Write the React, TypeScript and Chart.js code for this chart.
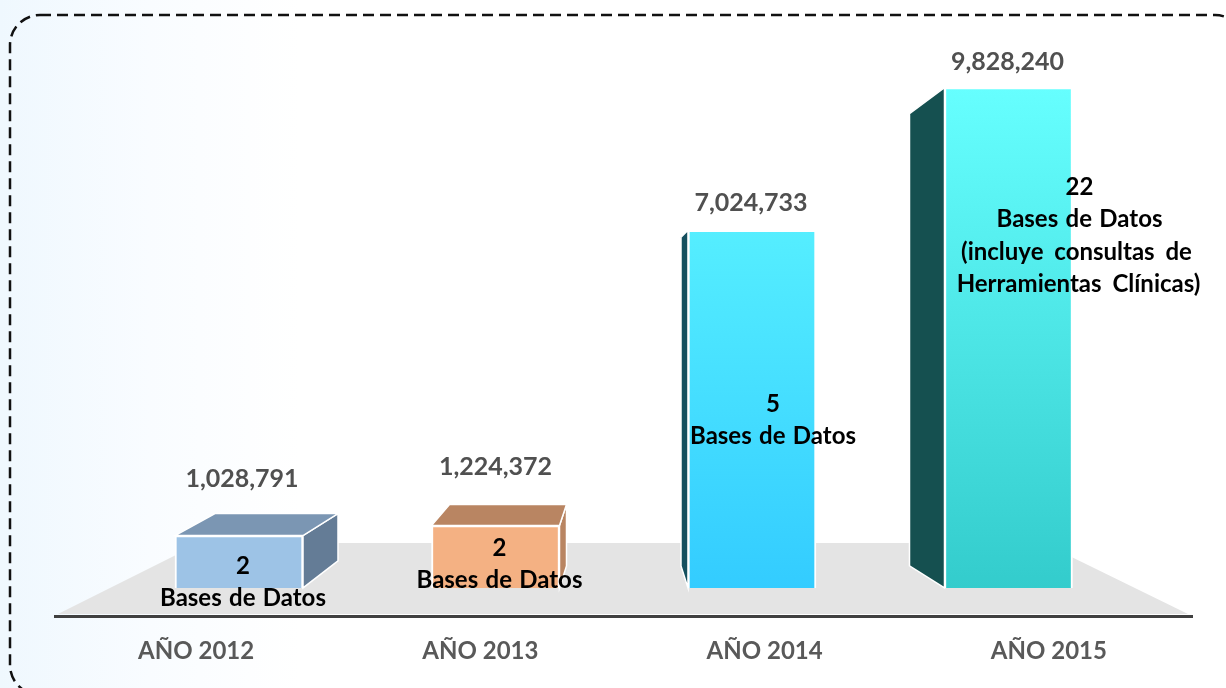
import React, { useEffect, useRef } from "react";
import { Chart, registerables } from "chart.js";

Chart.register(...registerables);

const categories = ["AÑO 2012", "AÑO 2013", "AÑO 2014", "AÑO 2015"];
const consultas = [1028791, 1224372, 7024733, 9828240];
const basesCount = ["2", "2", "5", "22"];
const basesNotes = [
  ["Bases de Datos"],
  ["Bases de Datos"],
  ["Bases de Datos"],
  ["Bases de Datos", "(incluye consultas de", "Herramientas Clínicas)"],
];

const FONT = "Lato, Carlito, 'Open Sans', sans-serif";

// Per-bar faces: colours and 3D extrusion, relative to the bar's own corners.
const barStyles = [
  { top: "#9DC3E6", bottom: "#9DC3E6", roof: "#7B96B3", side: "#647C96", dir: 1, dx: 35, dyTop: -22, dyBottom: -27, roofInset: 40, labelDx: 3, labelDy: -57, noteDx: 4, noteDy: -22 },
  { top: "#F4B183", bottom: "#F4B183", roof: "#B98562", side: "#B98562", dir: 1, dx: 7, dyTop: -21, dyBottom: -22, roofInset: 18, labelDx: 0, labelDy: -59, noteDx: 4, noteDy: -40 },
  { top: "#55EEFF", bottom: "#33CCFF", roof: "", side: "#15505F", dir: -1, dx: 7, dyTop: 7, dyBottom: -22, roofInset: 0, labelDx: -1, labelDy: -27, noteDx: 21, noteDy: -184 },
  { top: "#66FFFF", bottom: "#33CCCC", roof: "", side: "#155050", dir: -1, dx: 35, dyTop: 26, dyBottom: -22, roofInset: 0, labelDx: -1, labelDy: -26, noteDx: 71, noteDy: -401 },
];

const poly = (ctx: CanvasRenderingContext2D, pts: number[][], fill: string, stroke?: string) => {
  ctx.beginPath();
  pts.forEach(([x, y], i) => (i ? ctx.lineTo(x, y) : ctx.moveTo(x, y)));
  ctx.closePath();
  ctx.fillStyle = fill;
  ctx.fill();
  if (stroke) {
    ctx.strokeStyle = stroke;
    ctx.lineWidth = 1.5;
    ctx.stroke();
  }
};

const backdrop = {
  id: "backdrop",
  beforeDraw(chart: any) {
    const { ctx, width, height, chartArea: a } = chart;
    ctx.save();
    ctx.fillStyle = "#FFFFFF";
    ctx.fillRect(0, 0, width, height);
    const g = ctx.createLinearGradient(0, 0, 300, 0);
    g.addColorStop(0, "#EFF8FE");
    g.addColorStop(0.5, "#F9FCFF");
    g.addColorStop(1, "#FFFFFF");
    ctx.fillStyle = g;
    ctx.fillRect(0, 0, width, height);

    // dashed frame, running off the right and bottom edges
    ctx.beginPath();
    ctx.roundRect(10, 15, 1235, 680, 30);
    ctx.setLineDash([11, 6]);
    ctx.lineWidth = 2.5;
    ctx.strokeStyle = "#111111";
    ctx.stroke();
    ctx.setLineDash([]);

    // grey floor
    poly(
      ctx,
      [
        [a.left + 3, a.bottom - 2],
        [a.left + 145, a.bottom - 73],
        [a.right - 149, a.bottom - 73],
        [a.right - 4, a.bottom - 2],
      ],
      "#E4E4E4"
    );
    ctx.restore();
  },
};

const faces = {
  id: "faces",
  beforeDatasetsDraw(chart: any) {
    const { ctx } = chart;
    ctx.save();
    chart.getDatasetMeta(0).data.forEach((el: any, i: number) => {
      const s = barStyles[i];
      const left = el.x - el.width / 2;
      const right = el.x + el.width / 2;
      const edge = s.dir > 0 ? right : left;
      const far = edge + s.dir * s.dx;
      poly(
        ctx,
        [
          [edge, el.y],
          [far, el.y + s.dyTop],
          [far, el.base + s.dyBottom],
          [edge, el.base],
        ],
        s.side,
        "#FFFFFF"
      );
      if (s.roof) {
        poly(
          ctx,
          [
            [left, el.y],
            [left + s.roofInset, el.y + s.dyTop],
            [far, el.y + s.dyTop],
            [right, el.y],
          ],
          s.roof,
          "#FFFFFF"
        );
      }
    });
    ctx.restore();
  },
  afterDatasetsDraw(chart: any) {
    const { ctx } = chart;
    ctx.save();
    ctx.textAlign = "center";
    ctx.textBaseline = "middle";
    chart.getDatasetMeta(0).data.forEach((el: any, i: number) => {
      const s = barStyles[i];
      ctx.fillStyle = "#505050";
      ctx.font = `bold 25px ${FONT}`;
      ctx.fillText(consultas[i].toLocaleString("en-US"), el.x + s.labelDx, el.y + s.labelDy);

      ctx.fillStyle = "#000000";
      const cx = el.x + s.noteDx;
      let cy = el.base + s.noteDy;
      ctx.font = `bold 24px ${FONT}`;
      ctx.fillText(basesCount[i], cx, cy);
      basesNotes[i].forEach((line, k) => {
        cy += 32.5;
        (ctx as any).wordSpacing = k > 0 ? "5px" : "1.5px";
        ctx.fillText(line, k === 1 ? cx - 3 : k === 2 ? cx - 1 : cx, cy);
      });
      (ctx as any).wordSpacing = "0px";
    });
    ctx.restore();
  },
};

export default function App() {
  const ref = useRef<HTMLCanvasElement>(null);
  useEffect(() => {
    const chart = new Chart(ref.current as HTMLCanvasElement, {
      type: "bar",
      data: {
        labels: categories,
        datasets: [
          {
            label: "Consultas",
            xAxisID: "xBars",
            data: categories.map((_, i) => ({ x: i, y: consultas[i] })),
            barThickness: 128,
            borderColor: "#FFFFFF",
            borderWidth: 2,
            backgroundColor: (c: any) => {
              const a = c.chart.chartArea;
              const s = barStyles[c.dataIndex];
              if (!a || s === undefined) return "#CCCCCC";
              const yScale = c.chart.scales.y;
              const g = c.chart.ctx.createLinearGradient(
                0,
                yScale.getPixelForValue(consultas[c.dataIndex]),
                0,
                yScale.getPixelForValue(0)
              );
              g.addColorStop(0, s.top);
              g.addColorStop(1, s.bottom);
              return g;
            },
          },
        ],
      },
      options: {
        responsive: false,
        animation: false,
        layout: { padding: { left: 55, right: 34, top: 30, bottom: 0 } },
        plugins: { legend: { display: false }, tooltip: { enabled: false }, title: { display: false } },
        scales: {
          x: {
            type: "category",
            position: "bottom",
            offset: true,
            grid: { display: false },
            border: { display: true, color: "#404040", width: 3 },
            ticks: {
              color: "#595959",
              font: { family: FONT, weight: "bold", size: 24 },
              padding: 13,
              labelOffset: -1,
              maxRotation: 0,
            },
            afterFit: (axis: any) => {
              axis.height = 72;
            },
          },
          xBars: { type: "linear", display: false, offset: false, min: -0.7173, max: 3.7154 },
          y: { type: "linear", display: false, min: -551484, max: 10960000 },
        },
      },
      plugins: [backdrop, faces],
    } as any);
    return () => chart.destroy();
  }, []);
  return (
    <div style={{ position: "absolute", left: 0, top: 0, width: 1226, height: 688, overflow: "hidden" }}>
      <canvas ref={ref} width={1226} height={688} style={{ display: "block" }} />
    </div>
  );
}
